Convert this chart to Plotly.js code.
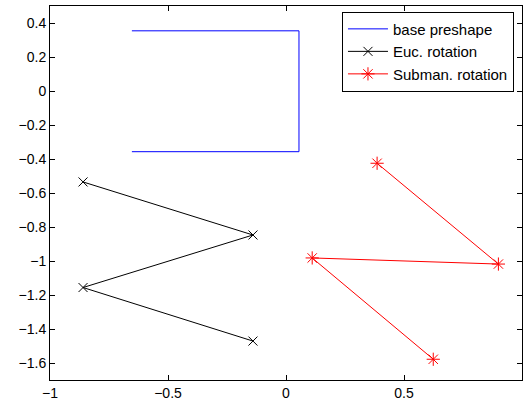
<!DOCTYPE html>
<html><head><meta charset="utf-8">
<script src="https://cdn.plot.ly/plotly-3.0.1.min.js"></script>
<style>html,body{margin:0;padding:0;background:#fff}#c{width:524px;height:405px}</style>
</head><body><div id="c"></div>
<script>
const baseX = [-0.653, 0.055, 0.055, -0.653];
const baseY = [0.354, 0.354, -0.357, -0.357];
const eucX = [-0.860, -0.140, -0.860, -0.140];
const eucY = [-0.535, -0.847, -1.156, -1.471];
const subX = [0.386, 0.900, 0.111, 0.624];
const subY = [-0.425, -1.018, -0.982, -1.578];
const names = ["base preshape", "Euc. rotation", "Subman. rotation"];
const xTicks = [-1, -0.5, 0, 0.5, 1];
const yTicks = [-1.6, -1.4, -1.2, -1, -0.8, -0.6, -0.4, -0.2, 0, 0.2, 0.4];

const traces = [
  {x: baseX, y: baseY, name: names[0], mode: 'lines', line: {color: '#0000ff', width: 1}},
  {x: eucX, y: eucY, name: names[1], mode: 'lines+markers', line: {color: '#000000', width: 1},
   marker: {symbol: 'x-thin-open', size: 9, color: '#000000', line: {color: '#000000', width: 1}}},
  {x: subX, y: subY, name: names[2], mode: 'lines+markers', line: {color: '#ff0000', width: 1},
   marker: {symbol: 'asterisk-open', size: 11, color: '#ff0000', line: {color: '#ff0000', width: 1}}}
];
const axisCommon = {
  showgrid: false, zeroline: false, showline: true, mirror: 'ticks', linecolor: '#000', linewidth: 1,
  ticks: 'inside', ticklen: 5, tickcolor: '#000', tickwidth: 1,
  tickfont: {family: 'Liberation Sans, Arial, sans-serif', size: 14, color: '#000'}
};
const layout = {
  width: 524, height: 405,
  margin: {l: 50, r: 2, t: 6, b: 25},
  paper_bgcolor: '#fff', plot_bgcolor: '#fff',
  xaxis: Object.assign({}, axisCommon, {range: [-1, 1], tickvals: xTicks, ticktext: xTicks.map(v => String(v).replace('-', '\u2212'))}),
  yaxis: Object.assign({}, axisCommon, {range: [-1.7, 0.5], tickvals: yTicks, ticktext: yTicks.map(v => String(v).replace('-', '\u2212'))}),
  showlegend: true,
  legend: {x: 0.983, y: 0.985, xanchor: 'right', yanchor: 'top', bgcolor: '#fff', bordercolor: '#000', borderwidth: 1,
    font: {family: 'Liberation Sans, Arial, sans-serif', size: 15, color: '#000'}, tracegroupgap: 0, itemwidth: 40}
};
Plotly.newPlot('c', traces, layout, {displayModeBar: false, staticPlot: true});
</script>
</body></html>
